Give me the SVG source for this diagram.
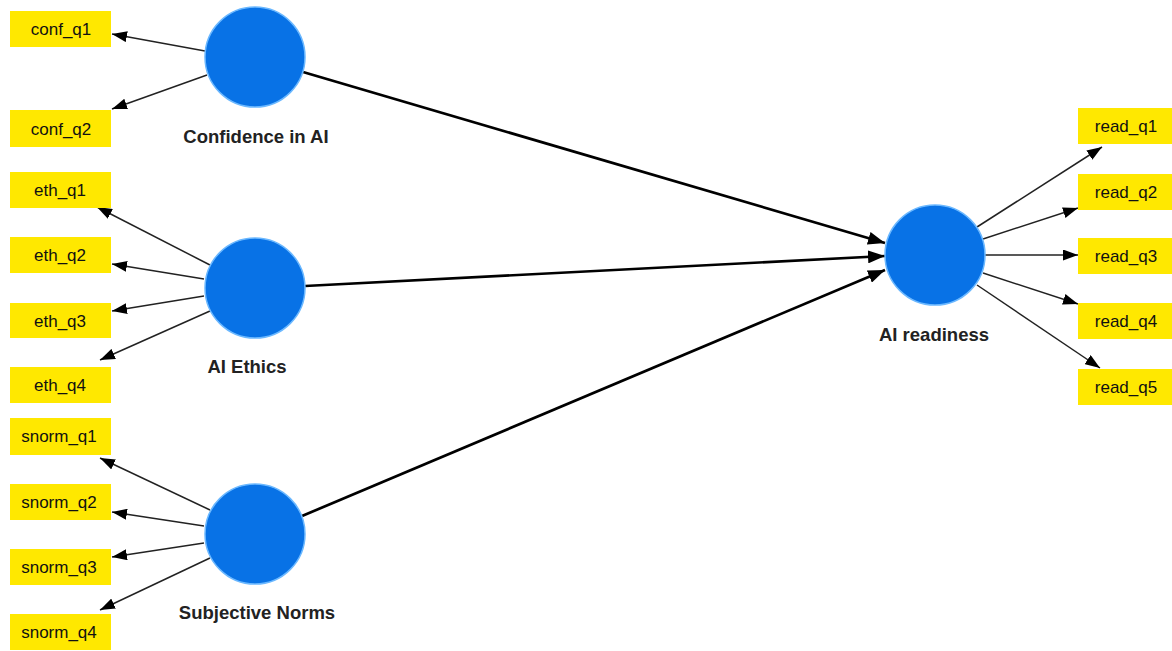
<svg xmlns="http://www.w3.org/2000/svg" width="1172" height="651" viewBox="0 0 1172 651">
  <defs>
    <marker id="arrow" viewBox="0 0 15 11" refX="15" refY="5.5" markerWidth="15" markerHeight="11" markerUnits="userSpaceOnUse" orient="auto">
      <path d="M0,0 L15,5.5 L0,11 Z" fill="#000"/>
    </marker>
    <marker id="arrow-bold" viewBox="0 0 17 13" refX="17" refY="6.5" markerWidth="17" markerHeight="13" markerUnits="userSpaceOnUse" orient="auto">
      <path d="M0,0 L17,6.5 L0,13 Z" fill="#000"/>
    </marker>
  </defs>
  <style>
    .ind rect { fill: #ffe800; }
    .ind text { font-family: "Liberation Sans", Arial, sans-serif; font-size: 17px; fill: #111; text-anchor: middle; dominant-baseline: central; }
    .lv circle { fill: #0872e6; stroke: #6bb8ff; stroke-width: 1.5; }
    .lv text { font-family: "Liberation Sans", Arial, sans-serif; font-size: 18.5px; font-weight: bold; fill: #222; text-anchor: middle; }
    .load { stroke: #222; stroke-width: 1.5; fill: none; marker-end: url(#arrow); }
    .path { stroke: #000; stroke-width: 2.7; fill: none; marker-end: url(#arrow-bold); }
  </style>
  <rect width="1172" height="651" fill="#fff"/>

  <!-- connectors -->
  <g id="connectors">
    <!-- structural paths -->
    <line class="path" x1="303" y1="72" x2="885" y2="243"/>
    <line class="path" x1="305" y1="286" x2="885" y2="256"/>
    <line class="path" x1="302" y1="516" x2="885" y2="270"/>
    <!-- Confidence in AI loadings -->
    <line class="load" x1="205" y1="51" x2="112" y2="34"/>
    <line class="load" x1="207" y1="75" x2="112" y2="109"/>
    <!-- AI Ethics loadings -->
    <line class="load" x1="210" y1="265" x2="97" y2="207"/>
    <line class="load" x1="204" y1="279" x2="112" y2="264"/>
    <line class="load" x1="204" y1="296" x2="112" y2="311"/>
    <line class="load" x1="210" y1="311" x2="100" y2="360"/>
    <!-- Subjective Norms loadings -->
    <line class="load" x1="210" y1="510" x2="100" y2="458"/>
    <line class="load" x1="204" y1="526" x2="112" y2="512"/>
    <line class="load" x1="204" y1="543" x2="112" y2="557"/>
    <line class="load" x1="210" y1="558" x2="100" y2="610"/>
    <!-- AI readiness loadings -->
    <line class="load" x1="977" y1="227" x2="1102" y2="147"/>
    <line class="load" x1="983" y1="239" x2="1078" y2="208"/>
    <line class="load" x1="985" y1="255" x2="1078" y2="255"/>
    <line class="load" x1="983" y1="273" x2="1078" y2="304"/>
    <line class="load" x1="977" y1="285" x2="1100" y2="368"/>
  </g>

  <!-- latent variables -->
  <g id="confidence" class="lv">
    <circle cx="255" cy="57" r="50"/>
    <text x="256" y="143">Confidence in AI</text>
  </g>
  <g id="ethics" class="lv">
    <circle cx="255" cy="288" r="50"/>
    <text x="247" y="373">AI Ethics</text>
  </g>
  <g id="snorms" class="lv">
    <circle cx="255" cy="534" r="50"/>
    <text x="257" y="619">Subjective Norms</text>
  </g>
  <g id="readiness" class="lv">
    <circle cx="935" cy="255" r="50"/>
    <text x="934" y="341">AI readiness</text>
  </g>

  <!-- indicators -->
  <g id="conf_q1" class="ind"><rect x="10" y="11" width="101" height="36"/><text x="61" y="29">conf_q1</text></g>
  <g id="conf_q2" class="ind"><rect x="10" y="110" width="101" height="37"/><text x="61" y="129">conf_q2</text></g>

  <g id="eth_q1" class="ind"><rect x="10" y="172" width="101" height="36"/><text x="60" y="190">eth_q1</text></g>
  <g id="eth_q2" class="ind"><rect x="10" y="237" width="101" height="36"/><text x="60" y="255">eth_q2</text></g>
  <g id="eth_q3" class="ind"><rect x="10" y="303" width="101" height="35"/><text x="60" y="321">eth_q3</text></g>
  <g id="eth_q4" class="ind"><rect x="10" y="367" width="101" height="36"/><text x="60" y="385">eth_q4</text></g>

  <g id="snorm_q1" class="ind"><rect x="10" y="418" width="101" height="37"/><text x="59" y="436">snorm_q1</text></g>
  <g id="snorm_q2" class="ind"><rect x="10" y="484" width="101" height="36"/><text x="59" y="502">snorm_q2</text></g>
  <g id="snorm_q3" class="ind"><rect x="10" y="549" width="101" height="36"/><text x="59" y="567">snorm_q3</text></g>
  <g id="snorm_q4" class="ind"><rect x="10" y="614" width="101" height="36"/><text x="59" y="632">snorm_q4</text></g>

  <g id="read_q1" class="ind"><rect x="1078" y="108" width="94" height="36"/><text x="1126" y="126">read_q1</text></g>
  <g id="read_q2" class="ind"><rect x="1078" y="174" width="94" height="36"/><text x="1126" y="192">read_q2</text></g>
  <g id="read_q3" class="ind"><rect x="1078" y="238" width="94" height="36"/><text x="1126" y="256">read_q3</text></g>
  <g id="read_q4" class="ind"><rect x="1078" y="303" width="94" height="36"/><text x="1126" y="321">read_q4</text></g>
  <g id="read_q5" class="ind"><rect x="1078" y="369" width="94" height="36"/><text x="1126" y="387">read_q5</text></g>
</svg>
